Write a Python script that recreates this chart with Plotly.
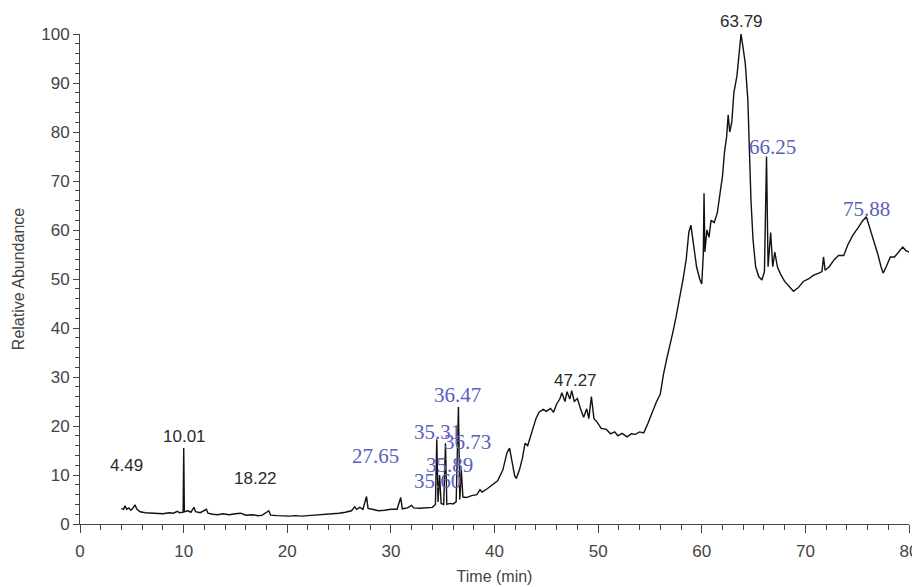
import plotly.graph_objects as go

# Chromatogram trace (time in min, relative abundance %)
time_min = [
    4.0, 4.2, 4.34, 4.5, 4.7, 4.9, 5.1, 5.3, 5.5, 5.8, 6.3, 6.8, 7.4, 8.0, 8.6, 9.0, 9.4, 9.6,
    9.95, 10.01, 10.07, 10.4, 10.7, 11.0, 11.15, 11.6, 12.2, 12.35, 12.8, 13.3, 13.8, 14.4, 15.0,
    15.5, 16.0, 16.6, 17.2, 17.6, 18.22, 18.4, 19.0, 19.6, 20.2, 20.8, 21.4, 22.0, 22.6, 23.2,
    23.8, 24.4, 25.0, 25.6, 26.2, 26.5, 26.7, 27.0, 27.3, 27.65, 27.8, 28.2, 28.8, 29.4, 30.0,
    30.6, 30.95, 31.1, 31.6, 32.0, 32.2, 32.8, 33.4, 34.0, 34.3, 34.43, 34.55, 34.7, 34.85, 35.1,
    35.27, 35.4, 35.7, 36.0, 36.3, 36.52, 36.65, 36.8, 36.95, 37.3, 37.8, 38.3, 38.6, 38.8, 39.3,
    39.8, 40.3, 40.8, 41.2, 41.45, 41.7, 41.95, 42.1, 42.4, 42.7, 42.95, 43.2, 43.6, 44.0, 44.3,
    44.7, 45.0, 45.4, 45.7, 46.0, 46.3, 46.5, 46.8, 47.0, 47.27, 47.45, 47.7, 48.0, 48.3, 48.6,
    48.9, 49.1, 49.35, 49.6, 49.9, 50.3, 50.8, 51.2, 51.6, 51.9, 52.3, 52.8, 53.2, 53.6, 54.0,
    54.4, 54.8, 55.2, 55.6, 56.0, 56.3, 56.6, 56.9, 57.2, 57.5, 57.9, 58.2, 58.5, 58.75, 58.95,
    59.2, 59.5, 59.8, 60.0, 60.15, 60.22, 60.3, 60.5, 60.7, 60.9, 61.2, 61.5, 61.8, 62.0, 62.2,
    62.4, 62.55, 62.7, 62.9, 63.1, 63.4, 63.6, 63.79, 64.0, 64.2, 64.45, 64.6, 64.75, 64.95, 65.2,
    65.5, 65.8, 66.05, 66.25, 66.4, 66.65, 66.85, 67.05, 67.3, 67.6, 68.0, 68.4, 68.85, 69.3, 69.8,
    70.3, 70.8, 71.3, 71.6, 71.75, 71.9, 72.3, 72.8, 73.2, 73.7, 74.1, 74.6, 75.1, 75.5, 75.88,
    76.2, 76.6, 77.0, 77.3, 77.5, 77.8, 78.2, 78.6, 79.0, 79.4, 79.7, 80.0,
]
abundance = [
    3.2, 3.0, 3.7, 3.0, 3.3, 2.8, 3.2, 3.9, 3.0, 2.5, 2.3, 2.2, 2.1, 2.1, 2.3, 2.2, 2.6, 2.3,
    2.4, 15.5, 2.5, 2.7, 2.4, 3.4, 2.5, 2.3, 3.0, 2.2, 2.0, 1.9, 2.1, 1.9, 2.1,
    2.2, 1.8, 1.9, 1.7, 1.8, 2.7, 1.8, 1.7, 1.6, 1.6, 1.7, 1.6, 1.7, 1.8, 1.8,
    2.0, 2.0, 2.2, 2.4, 2.7, 3.5, 3.0, 3.4, 3.0, 5.6, 3.2, 3.0, 2.7, 2.8, 3.0,
    3.0, 5.4, 3.1, 3.3, 3.8, 3.3, 3.2, 3.3, 3.4, 4.0, 17.3, 4.5, 10.0, 4.2, 4.0,
    16.5, 4.0, 4.2, 4.1, 4.5, 23.9, 5.0, 11.0, 5.5, 5.4, 5.8, 6.0, 7.0, 6.5, 7.2,
    8.0, 8.8, 11.0, 14.5, 15.5, 13.0, 9.8, 9.3, 11.0, 13.5, 16.5, 16.0, 19.0, 21.5, 22.8,
    23.4, 23.0, 23.6, 22.8, 24.5, 25.5, 26.8, 25.0, 27.0, 25.5, 27.2, 25.0, 25.6, 23.5, 21.8,
    23.5, 21.5, 26.0, 21.5, 20.8, 19.5, 19.3, 18.4, 18.8, 18.0, 18.5, 17.8, 18.4, 18.3, 18.8,
    18.6, 20.5, 22.8, 24.8, 26.5, 30.5, 33.5, 36.0, 39.0, 42.0, 46.4, 50.0, 54.0, 59.5, 61.0,
    57.5, 52.5, 50.0, 49.0, 55.0, 67.5, 55.5, 60.0, 58.5, 62.0, 61.5, 63.5, 68.0, 71.0, 76.0,
    79.0, 83.5, 80.0, 82.0, 88.0, 91.5, 96.0, 100.0, 97.0, 94.0, 86.5, 76.0, 66.0, 58.0, 52.5,
    50.5, 49.8, 51.5, 75.0, 52.5, 59.5, 52.5, 55.5, 52.5, 51.0, 49.5, 48.5, 47.5, 48.2, 49.5,
    50.0, 50.8, 51.2, 51.5, 54.5, 51.8, 52.5, 54.0, 54.8, 54.8, 57.0, 59.0, 60.5, 61.8, 62.7,
    60.5, 58.0, 55.0, 52.5, 51.2, 52.5, 54.5, 54.5, 55.5, 56.5, 55.8, 55.5,
]

# Peak labels: text, label-centre time, label-centre abundance
black_labels = ["4.49", "10.01", "18.22", "47.27", "63.79"]
black_x = [4.5, 10.05, 16.9, 47.8, 63.8]
black_y = [11.9, 17.8, 9.3, 29.2, 102.6]

blue_labels = ["27.65", "35.31", "36.47", "36.73", "35.89", "35.60", "66.25", "75.88"]
blue_x = [28.5, 34.5, 36.45, 37.4, 35.7, 34.5, 66.8, 75.9]
blue_y = [13.9, 18.8, 26.4, 16.7, 12.0, 8.8, 76.9, 64.3]

x_ticks = [0, 10, 20, 30, 40, 50, 60, 70, 80]
y_ticks = [0, 10, 20, 30, 40, 50, 60, 70, 80, 90, 100]

Y_MAX = 100.0
# the page body has an 8px margin, so the figure is drawn 8px in from the window corner
W, H = 912, 579
L, R, T, B = 72, 11, 26, 63

fig = go.Figure()
fig.add_trace(go.Scatter(
    x=time_min, y=abundance, mode="lines",
    line=dict(color="#111111", width=1.4),
    showlegend=False, hoverinfo="skip",
))


def y_to_paper(v):
    return v / Y_MAX


for t, xx, yy in zip(black_labels, black_x, black_y):
    fig.add_annotation(x=xx, xref="x", y=y_to_paper(yy), yref="paper", text=t, showarrow=False,
                       xanchor="center", yanchor="middle",
                       font=dict(family="Liberation Sans, Arial, sans-serif", size=17, color="#2a2a2a"))
for t, xx, yy in zip(blue_labels, blue_x, blue_y):
    fig.add_annotation(x=xx, xref="x", y=y_to_paper(yy), yref="paper", text=t, showarrow=False,
                       xanchor="center", yanchor="middle",
                       font=dict(family="Liberation Serif, Times New Roman, serif", size=21, color="#5a60bb"))

axis_font = dict(family="Liberation Sans, Arial, sans-serif", size=17, color="#444444")
fig.update_layout(
    width=W, height=H,
    margin=dict(l=L, r=R, t=T, b=B),
    paper_bgcolor="white", plot_bgcolor="white",
    xaxis=dict(
        range=[0, 80], tickvals=x_ticks, ticks="outside", ticklen=8, tickwidth=1,
        tickcolor="#444444", showline=True, linecolor="#444444", linewidth=1,
        showgrid=False, zeroline=False, tickfont=axis_font, automargin=False,
        ticklabelstandoff=4,
        minor=dict(dtick=2, ticks="outside", ticklen=5, tickcolor="#444444", showgrid=False),
        title=dict(text="Time (min)", font=dict(family="Liberation Sans, Arial, sans-serif", size=16, color="#444444"), standoff=10),
    ),
    yaxis=dict(
        range=[0, Y_MAX], tickvals=y_ticks, ticks="outside", ticklen=6, tickwidth=1,
        tickcolor="#444444", showline=True, linecolor="#444444", linewidth=1,
        showgrid=False, zeroline=False, tickfont=axis_font, automargin=False,
        minor=dict(dtick=2, ticks="outside", ticklen=4, tickcolor="#444444", showgrid=False),
        title=dict(text="Relative Abundance", font=dict(family="Liberation Sans, Arial, sans-serif", size=16, color="#444444"), standoff=12),
    ),
)

fig.write_html("out.html")
